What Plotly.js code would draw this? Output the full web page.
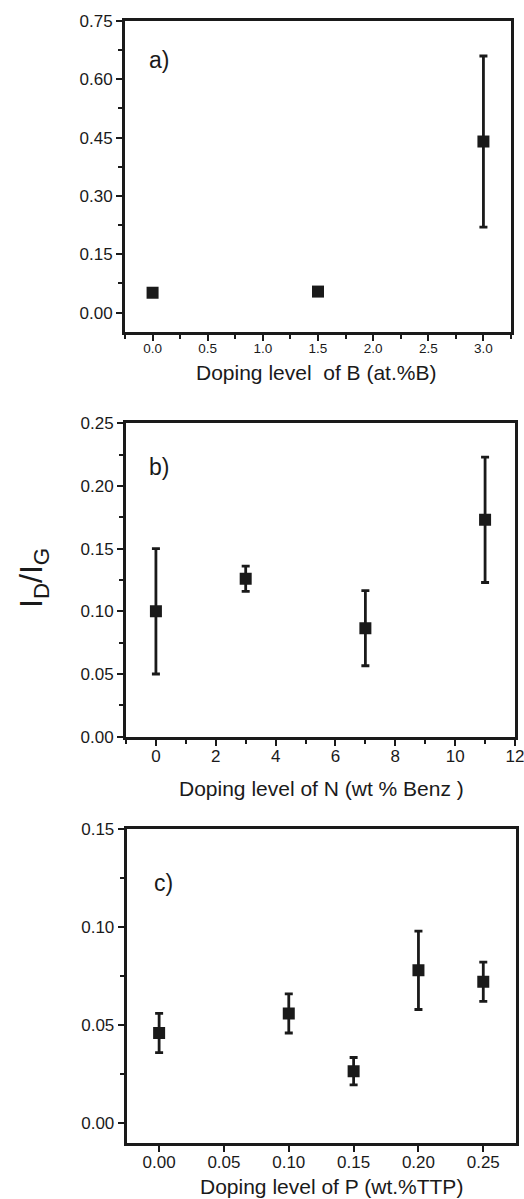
<!DOCTYPE html>
<html>
<head>
<meta charset="utf-8">
<script src="https://cdn.plot.ly/plotly-3.0.1.min.js"></script>
<style>html,body{margin:0;padding:0;background:#fff;}#chart{width:524px;height:1199px;}</style>
</head>
<body>
<div id="chart"></div>
<script>
// Panel a) boron doping
const xB = [0.0, 1.5, 3.0];
const yB = [0.051, 0.054, 0.44];
const errB = [0.004, 0.008, 0.22];
// Panel b) nitrogen doping
const xN = [0, 3, 7, 11];
const yN = [0.100, 0.126, 0.0866, 0.173];
const errN = [0.050, 0.010, 0.030, 0.050];
// Panel c) phosphorus doping
const xP = [0.00, 0.10, 0.15, 0.20, 0.25];
const yP = [0.046, 0.056, 0.0265, 0.078, 0.0722];
const errP = [0.010, 0.010, 0.007, 0.020, 0.010];

const xTitles = ["Doping level \u00a0of B (at.%B)", "Doping level of N (wt % Benz )", "Doping level of P (wt.%TTP)"];
const panelLabels = ["a)", "b)", "c)"];
const yTitle = "I<sub>D</sub>/I<sub>G</sub>";

const W = 524, H = 1199;
const FONT = "Liberation Sans, Arial, sans-serif";
const INK = '#1a1a1a';
const px = v => v / W;
const py = v => 1 - v / H;

function trace(x, y, e, xa, ya) {
  return {
    x: x, y: y, xaxis: xa, yaxis: ya, type: 'scatter', mode: 'markers',
    marker: {symbol: 'square', size: 12, color: INK},
    error_y: {type: 'data', array: e, visible: true, color: INK, thickness: 2.8, width: 4},
    showlegend: false, hoverinfo: 'x+y'
  };
}

const data = [
  trace(xB, yB, errB, 'x', 'y'),
  trace(xN, yN, errN, 'x2', 'y2'),
  trace(xP, yP, errP, 'x3', 'y3')
];

const minorOut = (d) => ({dtick: d, tick0: 0, ticks: 'outside', ticklen: 4, tickwidth: 2, tickcolor: INK});

function baseAxis(o) {
  return Object.assign({
    showline: true, linecolor: INK, linewidth: 3, mirror: true,
    ticks: 'outside', ticklen: 6, tickwidth: 2, tickcolor: INK,
    showgrid: false, zeroline: false, ticklabeloverflow: 'allow',
    tickfont: {family: FONT, size: 17, color: INK},
  }, o);
}
function mirrorAxis(o) {
  return Object.assign({
    showline: false, showgrid: false, zeroline: false, showticklabels: false,
    ticks: 'inside', ticklen: 5, tickwidth: 2, tickcolor: INK
  }, o);
}

const dom = {
  a: {x: [px(125), px(511)], y: [py(332), py(21)]},
  b: {x: [px(126), px(515)], y: [py(736.7), py(423.3)]},
  c: {x: [px(126.7), px(515.7)], y: [py(1142.7), py(829.3)]}
};

const layout = {
  width: W, height: H,
  margin: {l: 0, r: 0, t: 0, b: 0},
  paper_bgcolor: '#fff', plot_bgcolor: '#fff',
  font: {family: FONT, color: INK},
  // panel a
  xaxis: baseAxis({domain: dom.a.x, anchor: 'y', range: [-0.25, 3.25], dtick: 0.5, tick0: 0, tickformat: '.1f',
    ticklabelstandoff: -4, tickfont: {family: FONT, size: 13.5, color: INK}, minor: minorOut(0.25)}),
  yaxis: baseAxis({domain: dom.a.y, anchor: 'x', range: [-0.05, 0.75], dtick: 0.15, tick0: 0, tickformat: '.2f',
    minor: minorOut(0.075)}),
  xaxis4: mirrorAxis({overlaying: 'x', side: 'top', anchor: 'y', range: [-0.25, 3.25], dtick: 0.25, tick0: 0, ticklen: 4}),
  yaxis4: mirrorAxis({overlaying: 'y', side: 'right', anchor: 'x', range: [-0.05, 0.75], dtick: 0.075, tick0: 0, ticklen: 4}),
  // panel b
  xaxis2: baseAxis({domain: dom.b.x, anchor: 'y2', range: [-1, 12], dtick: 2, tick0: 0, ticklabelstandoff: -4, minor: minorOut(1)}),
  yaxis2: baseAxis({domain: dom.b.y, anchor: 'x2', range: [0, 0.25], dtick: 0.05, tick0: 0, tickformat: '.2f',
    minor: minorOut(0.025)}),
  xaxis5: mirrorAxis({overlaying: 'x2', side: 'top', anchor: 'y2', range: [-1, 12], dtick: 1, tick0: 0, ticklen: 4}),
  yaxis5: mirrorAxis({overlaying: 'y2', side: 'right', anchor: 'x2', range: [0, 0.25], dtick: 0.025, tick0: 0, ticklen: 4}),
  // panel c
  xaxis3: baseAxis({domain: dom.c.x, anchor: 'y3', range: [-0.025, 0.275], dtick: 0.05, tick0: 0, tickformat: '.2f', ticklabelstandoff: -4}),
  yaxis3: baseAxis({domain: dom.c.y, anchor: 'x3', range: [-0.01, 0.15], dtick: 0.05, tick0: 0, tickformat: '.2f',
    minor: minorOut(0.025)}),
  xaxis6: mirrorAxis({overlaying: 'x3', side: 'top', anchor: 'y3', range: [-0.025, 0.275], dtick: 0.05, tick0: 0}),
  yaxis6: mirrorAxis({overlaying: 'y3', side: 'right', anchor: 'x3', range: [-0.01, 0.15], dtick: 0.025, tick0: 0, ticklen: 4}),
  annotations: [
    {text: xTitles[0], xref: 'paper', yref: 'paper', x: px(316), y: py(373), showarrow: false, xanchor: 'center', yanchor: 'middle', font: {family: FONT, size: 21, color: INK}},
    {text: xTitles[1], xref: 'paper', yref: 'paper', x: px(321), y: py(788), showarrow: false, xanchor: 'center', yanchor: 'middle', font: {family: FONT, size: 21, color: INK}},
    {text: xTitles[2], xref: 'paper', yref: 'paper', x: px(332), y: py(1186), showarrow: false, xanchor: 'center', yanchor: 'middle', font: {family: FONT, size: 21, color: INK}},
    {text: panelLabels[0], xref: 'paper', yref: 'paper', x: px(147), y: py(60), showarrow: false, xanchor: 'left', yanchor: 'middle', font: {family: FONT, size: 23, color: INK}},
    {text: panelLabels[1], xref: 'paper', yref: 'paper', x: px(147), y: py(467), showarrow: false, xanchor: 'left', yanchor: 'middle', font: {family: FONT, size: 23, color: INK}},
    {text: panelLabels[2], xref: 'paper', yref: 'paper', x: px(152), y: py(883), showarrow: false, xanchor: 'left', yanchor: 'middle', font: {family: FONT, size: 23, color: INK}},
    {text: yTitle, xref: 'paper', yref: 'paper', x: px(33), y: py(578), showarrow: false, textangle: -90, xanchor: 'center', yanchor: 'middle', font: {family: FONT, size: 32, color: INK}}
  ]
};

Plotly.newPlot('chart', data, layout, {displayModeBar: false, staticPlot: true});
</script>
</body>
</html>
